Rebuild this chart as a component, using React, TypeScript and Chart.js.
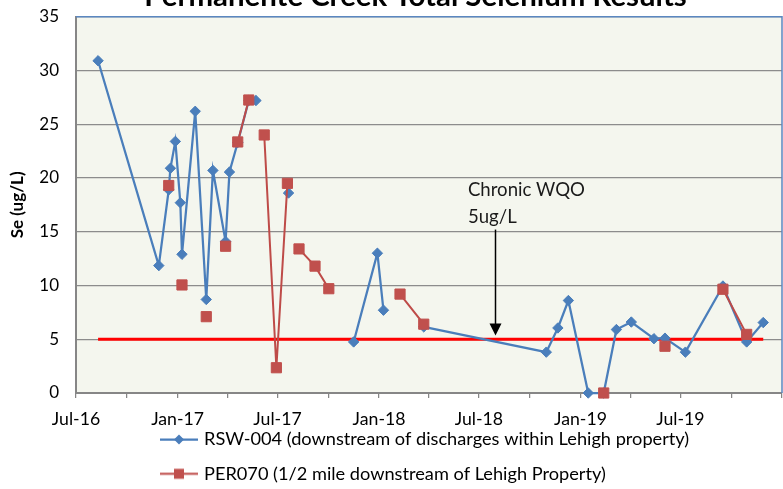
import React, { useEffect, useRef } from "react";
import { Chart, registerables } from "chart.js";

Chart.register(...registerables);

const chartTitle = "Permanente Creek Total Selenium Results";
const yAxisTitle = "Se (ug/L)";
const seriesNames = [
  "RSW-004 (downstream of discharges within Lehigh property)",
  "PER070 (1/2 mile downstream of Lehigh Property)",
];

const sampleDates = [
  "2016-08-10", "2016-11-28", "2016-12-16", "2016-12-19", "2016-12-28",
  "2017-01-06", "2017-01-09", "2017-02-02", "2017-02-22", "2017-03-06",
  "2017-03-29", "2017-04-05", "2017-04-20", "2017-05-10", "2017-05-23",
  "2017-06-07", "2017-06-29", "2017-07-19", "2017-07-21", "2017-08-09",
  "2017-09-07", "2017-10-02", "2017-11-16", "2017-12-29", "2018-01-09",
  "2018-02-08", "2018-03-23", "2018-10-31", "2018-11-21", "2018-12-10",
  "2019-01-15", "2019-02-12", "2019-03-07", "2019-04-03", "2019-05-14",
  "2019-06-03", "2019-07-10", "2019-09-16", "2019-10-29", "2019-11-28",
];

const rsw004Values = [
  30.9, 11.85, 18.9, 20.9, 23.4,
  17.7, 12.9, 26.2, 8.7, 20.7,
  14.1, 20.55, 23.3, 27.2, 27.2,
  null, null, null, 18.6, null,
  null, null, 4.75, 13.0, 7.7,
  null, 6.15, 3.8, 6.05, 8.6,
  0.0, 0.0, 5.9, 6.6, 5.05,
  5.1, 3.8, 9.95, 4.75, 6.55,
];

const per070Values = [
  null, null, 19.3, null, null,
  null, 10.05, null, 7.1, null,
  13.65, null, 23.35, 27.25, null,
  24.0, 2.35, 19.5, null, 13.4,
  11.8, 9.7, null, null, null,
  9.2, 6.4, null, null, null,
  null, 0.0, null, null, null,
  4.35, null, 9.65, 5.45, null,
];

const wqoDates = ["2016-08-10", "2019-11-28"];
const wqoValues = [5, 5];

const xTickDates = [
  "2016-07-01", "2016-10-01", "2017-01-01", "2017-04-01", "2017-07-01",
  "2017-10-01", "2018-01-01", "2018-04-01", "2018-07-01", "2018-10-01",
  "2019-01-01", "2019-04-01", "2019-07-01", "2019-10-01", "2020-01-01",
];
const xTickLabels = [
  "Jul-16", "", "Jan-17", "", "Jul-17",
  "", "Jan-18", "", "Jul-18", "",
  "Jan-19", "", "Jul-19", "", "",
];

const yMin = 0;
const yMax = 35;
const yStep = 5;

const annotationLines = ["Chronic WQO", "5ug/L"];

const FONT = "Lato, 'Open Sans', sans-serif";
const BLUE = "#4a7ebb";
const RED = "#be4b48";
const RED_FILL = "#c0504d";

const dayNum = (s: string) => {
  const [y, m, d] = s.split("-").map(Number);
  return Date.UTC(y, m - 1, d) / 86400000;
};

function makeIcon(kind: "diamond" | "square"): HTMLCanvasElement {
  const c = document.createElement("canvas");
  c.width = 38;
  c.height = 15;
  const g = c.getContext("2d")!;
  const color = kind === "diamond" ? BLUE : RED;
  g.strokeStyle = color;
  g.lineWidth = kind === "diamond" ? 2.25 : 2;
  g.beginPath();
  g.moveTo(0, 7.5);
  g.lineTo(38, 7.5);
  g.stroke();
  g.fillStyle = kind === "diamond" ? BLUE : RED_FILL;
  g.beginPath();
  if (kind === "diamond") {
    g.moveTo(19, 2.5);
    g.lineTo(24, 7.5);
    g.lineTo(19, 12.5);
    g.lineTo(14, 7.5);
  } else {
    g.rect(14, 2.5, 10, 10);
  }
  g.closePath();
  g.fill();
  return c;
}

const tweaks = {
  id: "tweaks",
  afterLayout(chart: any) {
    const t = chart.titleBlock;
    if (t) {
      t.left += 24.5;
      t.right += 24.5;
    }
    const lg = chart.legend;
    if (lg) {
      lg.left = 147;
      lg.top = 434.3;
      lg.right = chart.width + 400;
      lg.bottom = chart.height + 400;
      lg.width = lg.right - lg.left;
      lg.height = lg.bottom - lg.top;
    }
  },
  beforeDraw(chart: any) {
    const { ctx, chartArea: a } = chart;
    ctx.save();
    ctx.fillStyle = "#f4f6ee";
    ctx.fillRect(a.left, a.top, a.right - a.left, a.bottom - a.top);
    ctx.restore();
  },
  beforeDatasetsDraw(chart: any) {
    const { ctx, chartArea: a } = chart;
    ctx.save();
    ctx.strokeStyle = "#5b87c0";
    ctx.lineWidth = 1.5;
    ctx.beginPath();
    ctx.moveTo(a.left, a.top);
    ctx.lineTo(a.right, a.top);
    ctx.lineTo(a.right, a.bottom);
    ctx.stroke();
    ctx.restore();
  },
  afterDraw(chart: any) {
    const { ctx } = chart;
    const xs = chart.scales.x;
    const ys = chart.scales.y;
    ctx.save();
    ctx.fillStyle = "#1a1a1a";
    ctx.font = `18.6px ${FONT}`;
    ctx.textBaseline = "alphabetic";
    ctx.textAlign = "left";
    const tx = xs.getPixelForValue(dayNum("2018-06-11"));
    ctx.fillText(annotationLines[0], tx, ys.getPixelForValue(18.34));
    ctx.fillText(annotationLines[1], tx, ys.getPixelForValue(15.8));
    const ax = Math.round(xs.getPixelForValue(dayNum("2018-07-30"))) + 0.5;
    const y0 = ys.getPixelForValue(15.2);
    const y1 = ys.getPixelForValue(5.35);
    ctx.strokeStyle = "#000";
    ctx.lineWidth = 1.5;
    ctx.beginPath();
    ctx.moveTo(ax, y0);
    ctx.lineTo(ax, y1 - 10);
    ctx.stroke();
    ctx.fillStyle = "#000";
    ctx.beginPath();
    ctx.moveTo(ax - 6, y1 - 12);
    ctx.lineTo(ax + 6, y1 - 12);
    ctx.lineTo(ax, y1);
    ctx.closePath();
    ctx.fill();
    ctx.restore();
  },
};

export default function App() {
  const ref = useRef<HTMLCanvasElement | null>(null);
  useEffect(() => {
    if (!ref.current) return;
    const iconBlue = makeIcon("diamond");
    const iconRed = makeIcon("square");
    const toPoints = (dates: string[], vals: (number | null)[]) =>
      dates.map((d, i) => ({ x: dayNum(d), y: vals[i] }));
    const chart = new Chart(ref.current, {
      type: "line",
      data: {
        datasets: [
          {
            label: seriesNames[0],
            data: toPoints(sampleDates, rsw004Values) as any,
            borderColor: BLUE,
            backgroundColor: BLUE,
            borderWidth: 2.25,
            pointStyle: "rectRot",
            pointRadius: 5.2,
            pointBorderWidth: 1,
            pointBackgroundColor: BLUE,
            pointBorderColor: BLUE,
            spanGaps: false,
            tension: 0,
            order: 1,
            clip: false as any,
          },
          {
            label: seriesNames[1],
            data: toPoints(sampleDates, per070Values) as any,
            borderColor: RED,
            backgroundColor: RED_FILL,
            borderWidth: 2,
            pointStyle: "rect",
            pointRadius: 7.2,
            pointBorderWidth: 1,
            pointBackgroundColor: RED_FILL,
            pointBorderColor: RED_FILL,
            spanGaps: false,
            tension: 0,
            order: 0,
            clip: false as any,
          },
          {
            label: "Chronic WQO",
            data: toPoints(wqoDates, wqoValues) as any,
            borderColor: "#ff0000",
            borderWidth: 3,
            pointRadius: 0,
            tension: 0,
            order: 2,
          },
        ],
      },
      options: {
        animation: false,
        responsive: false,
        devicePixelRatio: 1,
        layout: { autoPadding: false, padding: { left: 0, right: 1, top: 0, bottom: 0 } },
        plugins: {
          tooltip: { enabled: false },
          title: {
            display: true,
            text: chartTitle,
            color: "#000",
            font: { family: FONT, size: 29.4, weight: "bold", lineHeight: 1.2 },
            padding: { top: -0.7, bottom: 2.1 },
          },
          legend: {
            position: "chartArea" as any,
            align: "start",
            labels: {
              usePointStyle: true,
              pointStyleWidth: 31.8,
              padding: 16.1,
              color: "#000",
              font: { family: FONT, size: 18.2 },
              generateLabels: () => [
                { text: seriesNames[0], pointStyle: iconBlue as any, datasetIndex: 0, hidden: false, lineWidth: 0, fillStyle: BLUE, strokeStyle: BLUE },
                { text: seriesNames[1], pointStyle: iconRed as any, datasetIndex: 1, hidden: false, lineWidth: 0, fillStyle: RED_FILL, strokeStyle: RED },
              ],
            },
          },
        },
        scales: {
          x: {
            type: "linear",
            min: dayNum(xTickDates[0]),
            max: dayNum(xTickDates[xTickDates.length - 1]),
            afterBuildTicks: (scale: any) => {
              scale.ticks = xTickDates.map((d) => ({ value: dayNum(d) }));
            },
            afterFit: (scale: any) => {
              scale.height = 96;
              scale.paddingRight = 0;
              scale.paddingLeft = 0;
            },
            ticks: {
              autoSkip: false,
              maxRotation: 0,
              minRotation: 0,
              padding: 10.9,
              color: "#000",
              font: { family: FONT, size: 17.7 },
              callback: (_v: any, i: number) => xTickLabels[i],
            },
            grid: {
              display: true,
              drawOnChartArea: false,
              drawTicks: true,
              tickLength: 5,
              color: "#868686",
              lineWidth: 1.25,
            },
            border: { display: true, color: "#868686", width: 2 },
          },
          y: {
            type: "linear",
            min: yMin,
            max: yMax,
            afterFit: (scale: any) => {
              scale.width = 76;
            },
            ticks: {
              stepSize: yStep,
              padding: 17,
              color: "#000",
              font: { family: FONT, size: 17 },
            },
            grid: {
              color: "#8c8c8c",
              lineWidth: 1.3,
              drawTicks: false,
            },
            border: { display: true, color: "#868686", width: 2 },
            title: {
              display: true,
              text: yAxisTitle,
              color: "#000",
              font: { family: FONT, size: 17, weight: "bold", lineHeight: 1.2 },
              padding: { top: 7.3, bottom: 0 },
            },
          },
        },
      },
      plugins: [tweaks],
    });
    return () => chart.destroy();
  }, []);
  return (
    <div style={{ position: "fixed", left: 0, top: -20, width: 783, height: 509 }}>
      <canvas ref={ref} width={783} height={509} style={{ display: "block", width: 783, height: 509 }} />
    </div>
  );
}
